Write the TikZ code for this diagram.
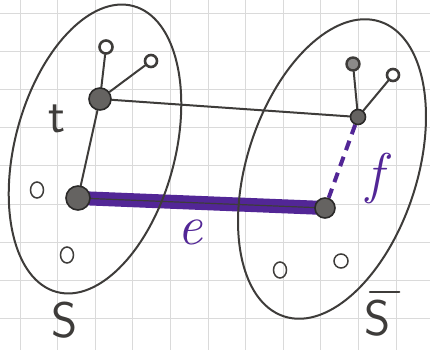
\documentclass[tikz,border=0pt]{standalone}
\usepackage{tikz}
\usetikzlibrary{shapes.geometric}
\definecolor{pen}{RGB}{62,60,58}
\definecolor{ink}{RGB}{82,38,150}
\definecolor{gridc}{RGB}{218,218,218}
\pgfdeclarelayer{paper}
\pgfdeclarelayer{bg}
\pgfsetlayers{paper,bg,main}
\begin{document}
\begin{tikzpicture}[x=1pt,y=-1pt,
  penline/.style={draw=pen, line width=2pt, line cap=round},
  bigv/.style={circle, draw=pen!70!black, fill=pen!80, line width=1.6pt, inner sep=0pt, minimum size=#1},
  leafv/.style={circle, draw=pen, line width=2.6pt, fill=white, inner sep=0pt, minimum size=#1},
  isov/.style={ellipse, draw=pen, line width=1.5pt, inner sep=0pt, minimum width=13pt, minimum height=16pt},
  lab/.style={text=pen, font=\fontsize{50}{50}\selectfont\sffamily, inner sep=0pt},
  elab/.style={text=ink, font=\fontsize{56}{56}\selectfont\itshape, inner sep=0pt}
]
\useasboundingbox (0,0) rectangle (430,350);
\begin{pgfonlayer}{paper}
\fill[white] (0,0) rectangle (430,350);
\foreach \i in {0,...,11} \draw[gridc, line width=0.8pt] (20+37.6*\i,0) -- (20+37.6*\i,350);
\foreach \j in {0,...,9} \draw[gridc, line width=0.8pt] (0,13+38.2*\j) -- (430,13+38.2*\j);
\end{pgfonlayer}

% sets
\draw[penline, rotate around={75:(95,149)}] (95,149) ellipse [x radius=148, y radius=80];
\draw[penline, rotate around={72:(332,169)}] (332,169) ellipse [x radius=155, y radius=85];

% left side vertices
\node[bigv=22pt] (lh) at (100,99) {};
\node[leafv=13pt] (l1) at (106,47) {};
\node[leafv=12pt] (l2) at (151,61) {};
\node[bigv=24pt] (lv) at (78,198) {};
\node[isov] (i1) at (37,190) {};
\node[isov] (i2) at (67,255) {};

% right side vertices
\node[bigv=15pt] (rh) at (358,117) {};
\node[circle, draw=pen, line width=2.4pt, fill=pen!60, inner sep=0pt, minimum size=13pt] (r1) at (353,64) {};
\node[leafv=12pt] (r2) at (393,75) {};
\node[bigv=20pt] (rv) at (325,208) {};
\node[isov] (i3) at (280,270) {};
\node[isov, minimum width=14pt, minimum height=14pt] (i4) at (341,261) {};

% labels
\node[lab] (t) at (57,119) {t};
\node[lab] (S) at (65,320) {S};
\node[lab] (Sb) at (378,318) {S};
\draw[penline] ([xshift=5pt,yshift=8pt]Sb.north west) -- ([xshift=8pt,yshift=8pt]Sb.north east);
\node[elab] (e) at (190,232) {e};
\node[elab] (f) at (375,178) {f};

% edges
\begin{pgfonlayer}{bg}
\draw[penline] (lh) -- (l1);
\draw[penline] (lh) -- (l2);
\draw[penline] (lh) -- (lv);
\draw[penline] (lh) -- (rh);
\draw[penline] (rh) -- (r1);
\draw[penline] (rh) -- (r2);
\draw[ink, line width=14pt, line cap=round] (lv.center) -- (rv.center);
\draw[pen, line width=1.2pt] (lv.center) -- (rv.center);
\draw[ink, line width=4pt, dash pattern=on 10pt off 7pt] (rh) -- (rv);
\end{pgfonlayer}
\end{tikzpicture}
\end{document}
